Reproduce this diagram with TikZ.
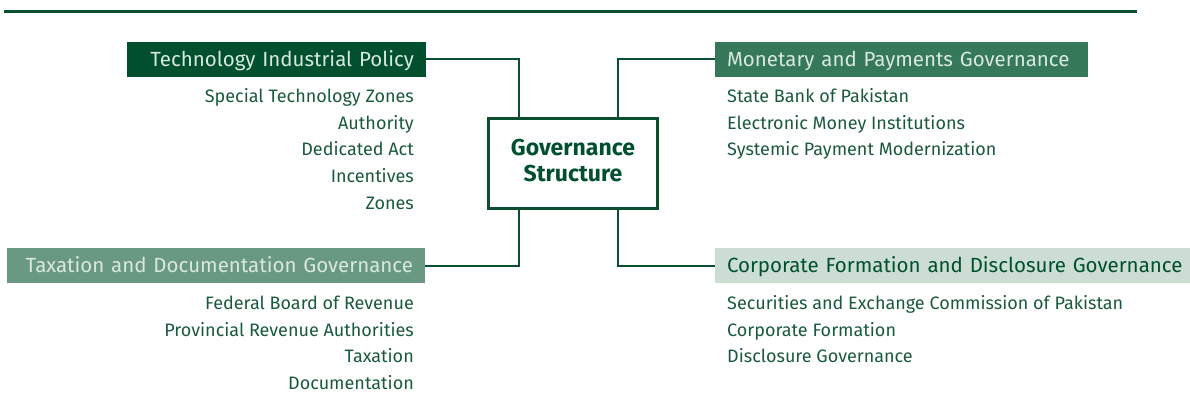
\documentclass[tikz,border=0pt]{standalone}
\usepackage{fontspec}
\setmainfont{Fira Sans}
\definecolor{gdark}{HTML}{00502F}
\definecolor{gline}{HTML}{0B4F30}
\definecolor{gmid}{HTML}{35785A}
\definecolor{glight}{HTML}{6A9983}
\definecolor{gpale}{HTML}{CCDDD4}
\definecolor{gtext}{HTML}{1A5A3C}
\definecolor{hdrtxt}{HTML}{D8E8DE}
\tikzset{
  hdr/.style={inner xsep=12pt, inner ysep=0pt, minimum height=35pt,
    font=\fontsize{20.5}{24}\selectfont, text height=14pt, text depth=0pt},
  item/.style={inner sep=0pt, font=\fontsize{18}{20}\selectfont, text=gtext},
  conn/.style={draw=gline, line width=2pt},
}
\begin{document}
\begin{tikzpicture}[x=1pt,y=-1pt]
\useasboundingbox (0,0) rectangle (1190,403);
\draw[gline, line width=2.5pt] (4,11.5) -- (1137,11.5);
% headers
\node[hdr, fill=gdark, text=hdrtxt, text width=275pt, align=right] (h1) at (276.5,59.5) {Technology Industrial Policy};
\node[hdr, fill=gmid, text=hdrtxt, text width=349pt, align=left] (h2) at (901.5,59.5) {Monetary and Payments Governance};
\node[hdr, fill=glight, text=hdrtxt, text width=394pt, align=right] (h3) at (216,265.5) {Taxation and Documentation Governance};
\node[hdr, fill=gpale, text=gdark, text width=470pt, align=left] (h4) at (962,265.5) {Corporate Formation and Disclosure Governance};
% center
\node[draw=gline, line width=3pt, minimum width=169pt, minimum height=90pt] (gs) at (573,163.5) {};
\node[align=center, inner sep=0pt, font=\fontsize{23}{26}\selectfont\bfseries, text=gdark] (gslabel) at ([yshift=3pt]gs.center) {Governance\\Structure};
% connectors
\draw[conn] (h1.east) -| ([xshift=-54pt]gs.north);
\draw[conn] (h2.west) -| ([xshift=45pt]gs.north);
\draw[conn] ([xshift=-54pt]gs.south) |- (h3.east);
\draw[conn] ([xshift=45pt]gs.south) |- (h4.west);
% items left top
\node[item, anchor=base east] (a1) at (414,102.7) {Special Technology Zones};
\node[item, anchor=base east] (a2) at (414,129.3) {Authority};
\node[item, anchor=base east] (a3) at (414,156) {Dedicated Act};
\node[item, anchor=base east] (a4) at (414,182.7) {Incentives};
\node[item, anchor=base east] (a5) at (414,209.3) {Zones};
% items right top
\node[item, anchor=base west] (b1) at (727,102.7) {State Bank of Pakistan};
\node[item, anchor=base west] (b2) at (727,129.3) {Electronic Money Institutions};
\node[item, anchor=base west] (b3) at (727,156) {Systemic Payment Modernization};
% items left bottom
\node[item, anchor=base east] (c1) at (414,309.3) {Federal Board of Revenue};
\node[item, anchor=base east] (c2) at (414,336) {Provincial Revenue Authorities};
\node[item, anchor=base east] (c3) at (414,362.7) {Taxation};
\node[item, anchor=base east] (c4) at (414,389.3) {Documentation};
% items right bottom
\node[item, anchor=base west] (d1) at (727,309.3) {Securities and Exchange Commission of Pakistan};
\node[item, anchor=base west] (d2) at (727,336) {Corporate Formation};
\node[item, anchor=base west] (d3) at (727,362.7) {Disclosure Governance};
\end{tikzpicture}
\end{document}
